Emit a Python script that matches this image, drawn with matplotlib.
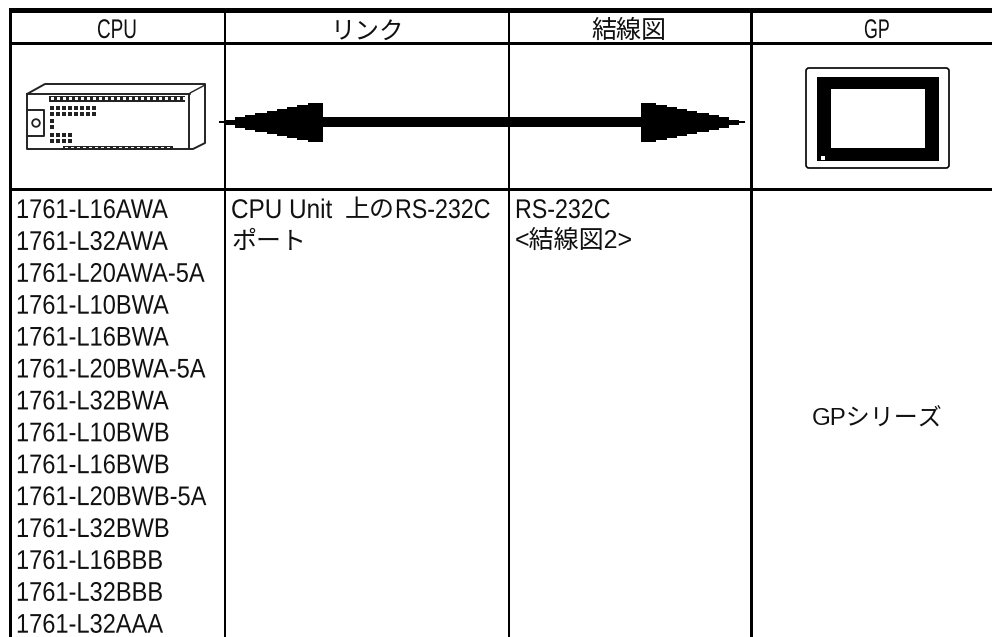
import matplotlib
matplotlib.use("Agg")
import matplotlib.pyplot as plt
from matplotlib.patches import Rectangle, FancyBboxPatch, Circle, Polygon
from matplotlib.patheffects import AbstractPathEffect
from matplotlib.transforms import Affine2D

plt.rcParams['font.family'] = ['Liberation Sans', 'Noto Sans CJK JP', 'DejaVu Sans']

# table content
cpu_models = ["1761-L16AWA", "1761-L32AWA", "1761-L20AWA-5A", "1761-L10BWA",
              "1761-L16BWA", "1761-L20BWA-5A", "1761-L32BWA", "1761-L10BWB",
              "1761-L16BWB", "1761-L20BWB-5A", "1761-L32BWB", "1761-L16BBB",
              "1761-L32BBB", "1761-L32AAA"]
wiring_lines = ["RS-232C", "<結線図2>"]

W, H = 992, 637
fig = plt.figure(figsize=(W / 100, H / 100), dpi=100)
ax = fig.add_axes([0, 0, 1, 1])
ax.set_xlim(0, W)
ax.set_ylim(H, 0)
ax.axis('off')


# the original latin font is a tall narrow one, so squeeze the glyphs sideways
class Squeeze(AbstractPathEffect):
    def __init__(self, sx):
        super().__init__()
        self.sx = sx

    def draw_path(self, renderer, gc, tpath, affine, rgbFace=None):
        renderer.draw_path(gc, tpath, Affine2D().scale(self.sx, 1) + affine, rgbFace)


def px(size):
    return size * 72 / 100


def label(x, y, txt, size, sx=None, **kw):
    t = ax.text(x, y, txt, fontsize=px(size), ha='left', va='baseline', color='#111111', **kw)
    if sx:
        t.set_path_effects([Squeeze(sx)])


def box(x0, y0, x1, y1, color='black'):
    ax.add_patch(Rectangle((x0, y0), x1 - x0, y1 - y0, facecolor=color, edgecolor='none'))


def outline(points, lw=1.4):
    xs, ys = zip(*points)
    ax.plot(xs, ys, color='#222222', lw=lw, solid_capstyle='round')


# grid lines
box(8.5, 8.5, 12.3, H)
box(8.5, 8.3, W, 12.7)
box(8.5, 42, W, 44.7)
box(8.5, 188.3, W, 190.5)
box(224, 8.3, 226.3, H)
box(508, 8.3, 510.3, H)
box(749.7, 8.3, 752.7, H)

# headers
label(97, 38, "CPU", 27, sx=0.7)
label(331, 38.5, "リンク", 24.5)
label(591, 38, "結線図", 25)
label(864, 38, "GP", 27, sx=0.66)

# body text
for i, name in enumerate(cpu_models):
    label(16, 218 + 31.9 * i, name, 27, sx=0.875)
label(231, 218, "CPU Unit", 27, sx=0.9)
label(345, 217, "上の", 25)
label(395, 218, "RS-232C", 27, sx=0.86)
label(231, 249, "ポート", 25)
label(515, 218, wiring_lines[0], 27, sx=0.86)
label(515, 248, wiring_lines[1], 25)
label(812, 426, "GPシリーズ", 24)

# arrow, stepped like the original bitmap
step_x = [0, 6, 16, 26, 36, 48, 58, 68, 78, 89, 104]
step_h = [1.2, 2.5, 5.5, 7.5, 9.5, 11.5, 13.5, 15.5, 17.5, 19.5]
cy = 122.2


def arrow_head(tip, sign):
    top = []
    for k, h in enumerate(step_h):
        top.append((tip + sign * step_x[k], cy - h))
        top.append((tip + sign * step_x[k + 1], cy - h))
    bottom = [(x, 2 * cy - y) for x, y in reversed(top)]
    ax.add_patch(Polygon(top + bottom, closed=True, facecolor='black', edgecolor='none'))


arrow_head(219, 1)
arrow_head(745, -1)
box(320, 117, 645, 127)

# CPU icon
outline([(27, 94), (190, 94)])
outline([(27, 94), (27, 149), (193, 149), (205, 143), (205, 84), (45, 84), (27, 94)])
outline([(189, 94), (189, 149)])
outline([(190, 93), (205, 85)], lw=1)
outline([(27, 110), (44, 110), (44, 136), (27, 136)])
ax.add_patch(Circle((36, 123), 3.8, facecolor='white', edgecolor='#222222', lw=1.3))
box(49, 96, 185, 101.5, color='#222222')
box(63, 145.5, 173, 149.5, color='#222222')
for x in range(50, 183, 6):
    box(x + 0.6, 97.2, x + 4, 100.2, color='white')
for x in range(64, 171, 6):
    box(x + 0.6, 146.6, x + 4, 148.3, color='white')
for y in [106, 112]:
    for x in range(50, 96, 6):
        box(x, y, x + 4, y + 4, color='#222222')
for y in [119, 125]:
    box(50, y, 54, y + 4, color='#222222')
for y in [133, 139]:
    for x in range(50, 73, 6):
        box(x, y, x + 4, y + 3.5, color='#222222')

# GP icon
ax.add_patch(FancyBboxPatch((806, 68), 143, 100, boxstyle="round,pad=0,rounding_size=3",
                            facecolor='white', edgecolor='black', lw=1.2))
box(816.5, 77, 938.5, 160.5)
box(830.5, 89, 924.5, 147.5, color='white')
box(821, 156, 825, 160, color='white')

fig.savefig("out.png", dpi=100)
